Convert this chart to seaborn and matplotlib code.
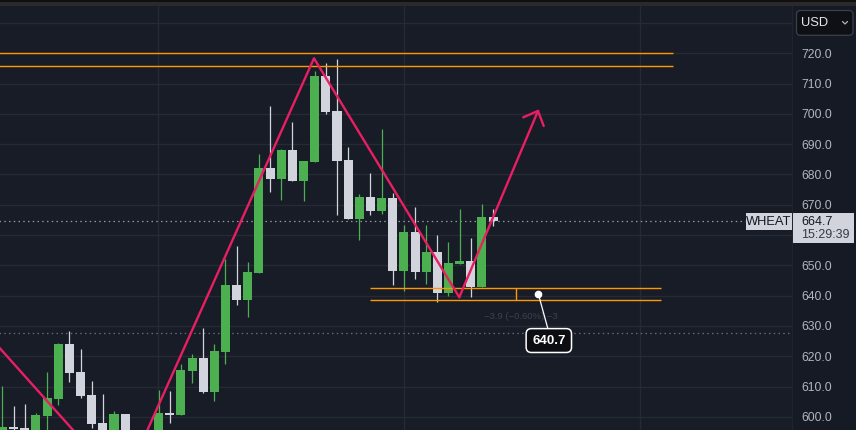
import matplotlib
matplotlib.use('Agg')
from matplotlib import pyplot as plt
from matplotlib.patches import Rectangle, FancyBboxPatch
from matplotlib.lines import Line2D
import numpy as np
import pandas as pd
import seaborn as sns


# candle data (index = bar number, prices in USD)
opens = [593.0, 596.8, 596.3, 594.0, 600.4, 606.0, 624.1, 614.8, 607.2, 598.0,
	591.0, 600.9, 590.0, 584.0, 590.0, 601.3, 600.7, 615.2, 619.4, 608.3,
	621.5, 643.5, 638.7, 647.6, 682.1, 678.6, 688.1, 678.0, 684.2, 712.5,
	701.0, 684.8, 665.4, 672.6, 668.1, 672.2, 648.3, 661.0, 647.9, 654.4,
	641.0, 650.6, 651.4, 643.0, 666.0]
highs = [610.2, 603.6, 604.2, 601.3, 614.8, 624.5, 628.4, 622.4, 611.8, 607.5,
	601.9, 600.9, 594.0, 592.0, 608.9, 608.5, 617.5, 620.8, 629.3, 624.1,
	652.0, 656.4, 651.1, 686.8, 702.6, 688.4, 697.3, 684.5, 714.2, 716.8,
	718.1, 689.1, 673.6, 680.5, 695.0, 674.0, 663.3, 669.3, 663.3, 660.0,
	657.6, 668.6, 658.9, 670.3, 668.6]
lows = [590.0, 592.0, 590.0, 591.0, 594.0, 604.0, 611.6, 606.3, 596.5, 590.0,
	588.0, 588.0, 582.0, 578.0, 588.0, 598.1, 600.5, 611.3, 608.0, 605.3,
	617.4, 637.0, 633.1, 647.4, 674.3, 671.7, 678.0, 671.4, 684.2, 700.1,
	666.7, 665.4, 658.5, 666.7, 667.1, 643.6, 641.7, 645.6, 644.0, 638.0,
	640.0, 650.6, 639.7, 643.0, 663.0]
closes = [596.8, 596.0, 592.0, 600.6, 606.2, 624.1, 614.6, 607.0, 597.8, 592.0,
	600.9, 590.0, 584.0, 590.0, 601.3, 600.6, 615.5, 619.4, 608.3, 621.8,
	643.5, 638.7, 647.8, 682.1, 678.6, 688.1, 678.0, 684.5, 712.5, 700.7,
	684.6, 665.4, 672.6, 668.1, 672.2, 648.3, 661.0, 647.9, 654.4, 641.0,
	650.8, 651.4, 643.0, 666.0, 664.7]

# zigzag drawing (bar, price)
zz_bar = [-1.0, 10.77, 27.94, 40.97]
zz_price = [625.8, 577.4, 718.35, 639.5]
arrow_tip = (48.09, 701.5)

# horizontal levels
top_levels = [720.0, 715.8]
bottom_levels = [642.4, 638.6]
last_price = 664.7
old_level = 627.6
marker_price = 640.7
ticks = [600, 610, 620, 630, 640, 650, 660, 670, 680, 690, 700, 710, 720, 730]
time_grid = [13.97, 36.04, 57.15]

bg = '#181c27'
grid_col = '#262a35'
up_col = '#4caf50'
down_col = '#d1d4dc'
pink = '#e91e63'
orange = '#ff9800'


df = pd.DataFrame({'open': opens, 'high': highs, 'low': lows, 'close': closes})
df['bar'] = np.arange(len(df))
df['up'] = df['close'] >= df['open']
df['bottom'] = df[['open', 'close']].min(axis=1)
df['height'] = (df['close'] - df['open']).abs().clip(lower=0.35)

sns.set_style('dark', rc={'axes.facecolor': bg, 'figure.facecolor': '#161a24'})
plt.rcParams['font.family'] = ['Liberation Sans', 'DejaVu Sans']

fig = plt.figure(figsize=(8.56, 4.30), dpi=100)
ax = fig.add_axes([0, 0, 792 / 856, 424 / 430])

# grid
for t in ticks:
	ax.axhline(t, color=grid_col, lw=1.0, zorder=0)
for t in time_grid:
	ax.axvline(t, color=grid_col, lw=1.0, zorder=0)

# dotted price lines
ax.hlines(last_price, -1, 66.6, color='#9598a1', lw=0.9, linestyles=(0, (1.2, 2.6)), zorder=1)
ax.hlines(old_level, -1, 70.6, color='#6a6d78', lw=0.9, linestyles=(0, (1.2, 2.6)), zorder=1)

# candles
colors = [up_col if u else down_col for u in df['up']]
ax.vlines(df['bar'], df['low'], df['high'], colors=colors, lw=0.9, zorder=2)
ax.bar(df['bar'], df['height'], bottom=df['bottom'], width=0.81, color=colors, linewidth=0, zorder=3)

# drawings
for lv in top_levels:
	ax.hlines(lv, -1, 60.1, color=orange, lw=1.0, zorder=4)
for lv in bottom_levels:
	ax.hlines(lv, 32.96, 59.06, color=orange, lw=1.0, zorder=4)
ax.vlines(46.08, bottom_levels[1], bottom_levels[0], color=orange, lw=1.0, zorder=4)

zz = pd.DataFrame({'bar': zz_bar, 'price': zz_price})
sns.lineplot(data=zz, x='bar', y='price', sort=False, color=pink, lw=1.7, ax=ax, zorder=5)
ax.annotate('', xy=arrow_tip, xytext=(zz_bar[-1], zz_price[-1]),
	arrowprops=dict(arrowstyle='->,head_length=0.42,head_width=0.4', color=pink, lw=1.7,
		shrinkA=0, shrinkB=0, mutation_scale=20), zorder=5)

ax.text(43.2, 633.1, '−3.9 (−0.60%) −3', fontsize=6.8, color='#3d414c', va='center', ha='left', zorder=4)

# 640.7 marker
ax.plot([48.05, 48.9], [marker_price, 629.3], color='white', lw=0.9, zorder=6)
ax.plot(48.05, marker_price, 'o', color='white', ms=4.5, zorder=7)
ax.text(49.0, 625.2, '{:.1f}'.format(marker_price), fontsize=9.5, fontweight='bold', color='white',
	ha='center', va='center', zorder=8,
	bbox=dict(boxstyle='round,pad=0.45,rounding_size=0.4', fc='#0b0d12', ec='white', lw=1.1))

ax.set_xlim(-0.224, 70.81)
ax.set_ylim(595.68, 735.6)
ax.set_xlabel('')
ax.set_ylabel('')
ax.set_xticks([])
ax.yaxis.tick_right()
# 660 sits under the last-price label, so it is not shown
ax.set_yticks(ticks[:-1])
ax.set_yticklabels(['' if t == 660 else '{:.1f}'.format(t) for t in ticks[:-1]])
ax.tick_params(axis='y', length=0, pad=6.5, labelsize=8.8, labelcolor='#b2b5be')
for s in ax.spines.values():
	s.set_visible(False)

# overlay pieces in pixel space
tr = fig.dpi_scale_trans


def px_box(x0, y0, x1, y1, **kw):
	return Rectangle((x0 / 100, (430 - y1) / 100), (x1 - x0) / 100, (y1 - y0) / 100, transform=tr, **kw)


fig.patches.append(px_box(0, 0, 856, 2, fc='#101010', lw=0, zorder=10))
fig.patches.append(px_box(0, 2, 856, 6, fc='#2a2a2d', lw=0, zorder=10))
fig.lines.append(Line2D([792 / 100, 792 / 100], [0, 424 / 100], transform=tr, color='#20242e', lw=0.8))

usd = FancyBboxPatch((796.5 / 100, (430 - 35.3) / 100), 56.5 / 100, 24.8 / 100,
	boxstyle='round,pad=0,rounding_size=0.04', transform=tr, fc='#0e1016', ec='#3c404a', lw=0.9, zorder=10)
fig.patches.append(usd)
fig.text(800.5 / 856, (430 - 23) / 430, 'USD', fontsize=9.3, color='#e8e8ea', va='center', ha='left', zorder=11)
fig.lines.append(Line2D([842.5 / 100, 845 / 100, 847.5 / 100], [(430 - 21.5) / 100, (430 - 24) / 100, (430 - 21.5) / 100],
	transform=tr, color='#b0b3bb', lw=0.9, zorder=11))

fig.patches.append(px_box(746, 213.3, 791.7, 230, fc='#d1d4dc', lw=0, zorder=10))
fig.text(768.8 / 856, (430 - 221.7) / 430, 'WHEAT', fontsize=9.3, color='#131722', va='center', ha='center', zorder=11)
fig.patches.append(px_box(792.7, 213.3, 854, 242.7, fc='#d1d4dc', lw=0, zorder=10))
fig.text(801 / 856, (430 - 221.8) / 430, '{:.1f}'.format(last_price), fontsize=9, color='#131722', va='center', ha='left', zorder=11)
fig.text(801 / 856, (430 - 235.2) / 430, '15:29:39', fontsize=9, color='#363a45', va='center', ha='left', zorder=11)

plt.savefig('out.png', dpi=100, facecolor=fig.get_facecolor())
